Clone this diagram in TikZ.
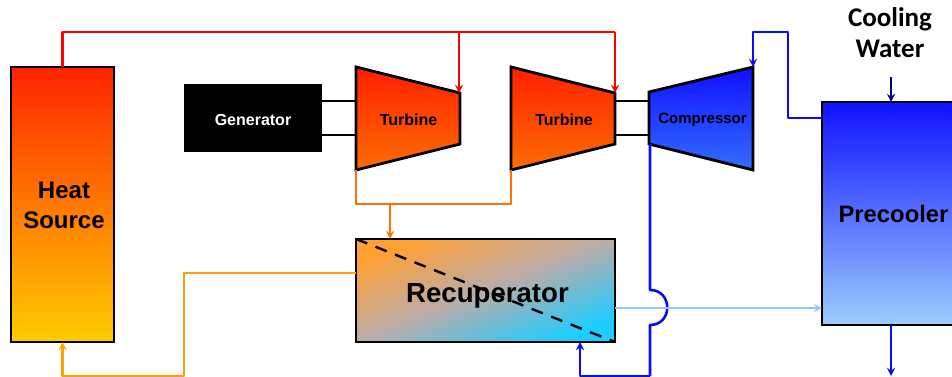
\documentclass[tikz,border=0pt]{standalone}
\usepackage{fontspec}
\setmainfont{Liberation Sans}
\newfontfamily\calibrifont{Carlito}
\usetikzlibrary{arrows,calc}
\definecolor{hotred}{RGB}{255,0,0}
\definecolor{hotorange}{RGB}{255,112,10}
\definecolor{warmorange}{RGB}{255,160,10}
\definecolor{coldblue}{RGB}{10,10,255}
\definecolor{paleblue}{RGB}{150,200,255}
\definecolor{waterblue}{RGB}{0,0,140}
\tikzset{
  unit/.style={draw=black, line width=2.8pt, outer sep=0pt, align=center, font=\bfseries},
  label/.style={outer sep=0pt, align=center, font=\bfseries, inner sep=0pt},
  turbineshade/.style={draw=black, line width=2.8pt, line join=miter, top color={rgb,255:red,255;green,32;blue,0}, bottom color={rgb,255:red,255;green,108;blue,0}},
  pipe/.style={line width=2.6pt, line join=round},
  shaft/.style={draw=black, line width=2.4pt}
}
\begin{document}
\begin{tikzpicture}[>=stealth, x=1pt, y=-1pt]
  \useasboundingbox (0,0) rectangle (952,376);
  %machines
  \node[unit, anchor=north west, minimum width=103pt, minimum height=275pt, top color={rgb,255:red,255;green,36;blue,0}, bottom color={rgb,255:red,255;green,205;blue,0}](heat) at (11,67) {};
  \node[label, font=\bfseries\fontsize{24}{30}\selectfont](heattext) at (64,205.5) {Heat\\Source};
  \node[anchor=north west, minimum width=138pt, minimum height=68pt, fill=black, outer sep=0pt](gen) at (184,84) {};
  \node[label, text=white, font=\bfseries\fontsize{16}{19}\selectfont](gentext) at (253,120) {Generator};
  \draw[turbineshade] (356,67) -- (460,93) -- (460,144) -- (356,170) -- cycle;
  \draw[turbineshade] (511,67) -- (615,93) -- (615,144) -- (511,170) -- cycle;
  \draw[draw=black, line width=2.8pt, top color={rgb,255:red,16;green,16;blue,255}, bottom color={rgb,255:red,50;green,110;blue,255}] (649,92) -- (753,67) -- (753,170) -- (649,144) -- cycle;
  \node[label, font=\bfseries\fontsize{16}{19}\selectfont, minimum width=104pt, minimum height=103pt](turbA) at (408.5,120) {Turbine};
  \node[label, font=\bfseries\fontsize{16}{19}\selectfont, minimum width=104pt, minimum height=103pt](turbB) at (564,120) {Turbine};
  \node[label, font=\bfseries\fontsize{15}{18}\selectfont, minimum width=104pt, minimum height=103pt](comp) at (702.5,120) {Compressor};
  \node[unit, anchor=north west, minimum width=259pt, minimum height=103pt, left color={rgb,255:red,255;green,160;blue,50}, right color={rgb,255:red,30;green,205;blue,255}, middle color={rgb,255:red,186;green,172;blue,170}, shading angle=22](recup) at (356,239) {};
  \draw[black, line width=2.4pt, dash pattern=on 12pt off 9pt] (recup.north west) -- (recup.south east);
  \node[label, font=\bfseries\fontsize{27.6}{32}\selectfont](recuptext) at (487.5,296) {Recuperator};
  \node[unit, anchor=north west, minimum width=143pt, minimum height=223pt, top color={rgb,255:red,16;green,16;blue,255}, bottom color={rgb,255:red,155;green,206;blue,255}, font=\bfseries\fontsize{23.8}{28}\selectfont](cool) at (822,102) {Precooler};
  \node[font=\calibrifont\bfseries\fontsize{27}{31}\selectfont, align=center, inner sep=0pt](water) at (890,33) {Cooling\\Water};
  %ports
  \coordinate (red1) at ($(heat.north)+(0,-35)$);
  \coordinate (red2) at (459,32);
  \coordinate (red3) at (615,32);
  \coordinate (orange1) at (356,204);
  \coordinate (orange2) at (390,204);
  \coordinate (cold1) at (788,118);
  \coordinate (cold2) at (753,32);
  \coordinate (bump1) at (650,290);
  \coordinate (bump2) at (650,325);
  \coordinate (low) at (650,376);
  \coordinate (warm1) at (184,273);
  \coordinate (warm2) at (184,376);
  \coordinate (waterin) at (891,77);
  \coordinate (waterout) at (891,376);
  % Edges
  \draw[pipe, hotred] (heat.north) -- (red1) -- (red3);
  \draw[pipe, hotred, ->] (red3) -- (615,93);
  \draw[pipe, hotred, ->] (red2) -- (459,93);
  \draw[pipe, hotorange] (356,170) -- (orange1) -- (511,204) -- (511,170);
  \draw[pipe, hotorange, ->] (orange2) -- (390,239);
  \draw[pipe, warmorange, ->] (recup.west |- warm1) -- (warm1) -- (warm2) -- ($(heat.south)+(0,34)$) -- (heat.south);
  \draw[pipe, coldblue] (650,144) -- (bump1) .. controls (673,290) and (673,325) .. (bump2) -- (low);
  \draw[pipe, coldblue, ->] (low) -- (580,376) -- (580,342);
  \draw[pipe, paleblue, ->] (615,308) -- (cool.west |- 0,308);
  \draw[pipe, coldblue, ->] (cool.west |- cold1) -- (cold1) -- (788,32) -- (cold2) -- (753,67);
  \draw[pipe, waterblue, ->] (waterin) -- (891,102);
  \draw[pipe, coldblue, ->] (891,325) -- (waterout);
  \draw[shaft] (gen.east |- 0,101) -- (356,101);
  \draw[shaft] (gen.east |- 0,135) -- (356,135);
  \draw[shaft] (615,101) -- (649,101);
  \draw[shaft] (615,135) -- (649,135);
\end{tikzpicture}
\end{document}
